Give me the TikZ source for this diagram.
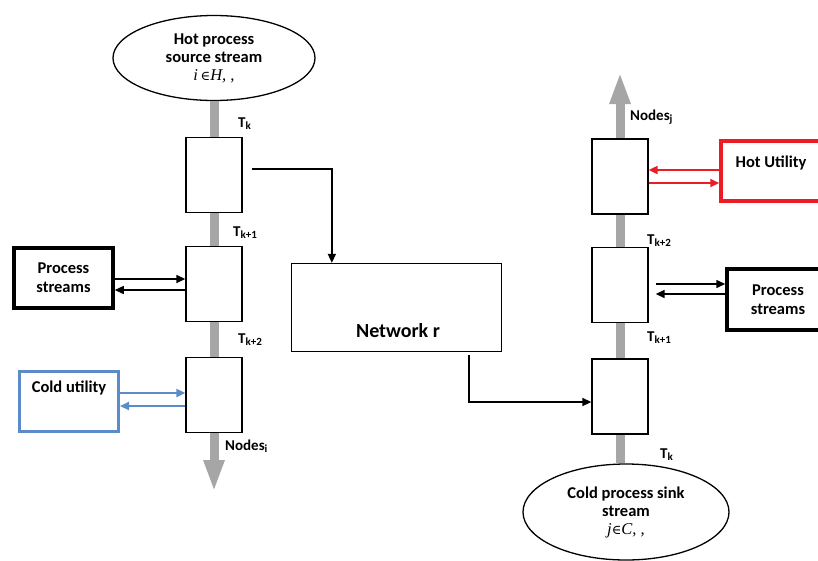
\documentclass[tikz,border=0pt]{standalone}
\usepackage{fontspec}
\setmainfont{Carlito}
\newfontfamily\mathserif{Liberation Serif}
\newfontfamily\symserif{DejaVu Serif}
\usetikzlibrary{arrows.meta,shapes.geometric,calc}
\definecolor{bargray}{HTML}{A6A6A6}
\definecolor{hotred}{HTML}{ED1C24}
\definecolor{coldblue}{HTML}{5B8BC9}
\newcommand\mysub[1]{\raisebox{-0.4ex}{\fontsize{11}{11}\selectfont\bfseries #1}}
\newcommand\myin{{\symserif\mdseries\upshape\fontsize{13}{13}\selectfont ∈}}
\begin{document}
\begin{tikzpicture}[x=1pt,y=-1pt,
  cell/.style={draw=black, line width=1.3pt, fill=white, minimum width=56pt, minimum height=75pt, inner sep=0pt},
  txt/.style={font=\fontsize{16.5}{19}\selectfont\bfseries, align=center, inner sep=0pt},
  lbl/.style={font=\fontsize{15}{17}\selectfont\bfseries, anchor=base west, inner sep=0pt},
  arr/.style={line width=1.5pt, -{Triangle[length=9pt,width=8pt]}},
  bar/.style={line width=9pt, draw=bargray, -{Triangle[length=32pt,width=19pt, fill=bargray]}},
  stream/.style={ellipse, draw=black, line width=1.3pt, fill=white, inner sep=0pt, align=center, font=\fontsize{16.5}{18}\selectfont\bfseries},
  thickbox/.style={draw=black, line width=3.5pt, inner sep=0pt}
]
\useasboundingbox (0,0) rectangle (818,560);

% streams (ellipses)
\node[stream, minimum width=202pt, minimum height=85pt] (hot) at (214,58) {Hot process\\source stream\\{\mathserif\mdseries\itshape i\,\myin H, ,}};
\node[stream, minimum width=206pt, minimum height=96pt] (cold) at (626,512) {Cold process sink\\stream\\{\mathserif\mdseries\itshape j\myin C, ,}};

% gray stream bars
\coordinate (ltip) at (214,492);
\coordinate (rtip) at (620,72);
\draw[bar] (hot.south) -- (ltip);
\draw[bar] (cold.north -| rtip) -- (rtip);

% interval cells
\node[cell] (L1) at (214,175) {};
\node[cell] (L2) at (214,284) {};
\node[cell] (L3) at (214,395) {};
\node[cell] (R1) at (620,176.5) {};
\node[cell] (R2) at (620,285) {};
\node[cell] (R3) at (620,396.5) {};

% network
\node[draw=black, line width=1.3pt, minimum width=210pt, minimum height=88pt, inner sep=0pt] (net) at (396.5,307.5) {};
\node[font=\fontsize{20}{22}\selectfont\bfseries, anchor=base, inner sep=0pt] (netlbl) at (398,337) {Network r};

% side boxes
\node[thickbox, minimum width=99pt, minimum height=60pt, txt] (psL) at (63.5,278) {Process\\streams};
\node[draw=coldblue, line width=3pt, minimum width=99pt, minimum height=60pt, inner sep=0pt] (cu) at (69,401.5) {};
\node[txt] (cutxt) at (69,388) {Cold utility};
\node[draw=hotred, line width=3.5pt, minimum width=108pt, minimum height=60pt, inner sep=0pt] (hu) at (775,171) {};
\node[txt] (hutxt) at (771,163) {Hot Utility};
\node[thickbox, minimum width=102pt, minimum height=61pt, txt] (psR) at (778,299.5) {Process\\streams};

% connectors to network
\draw[arr] ([shift={(9,-6)}]L1.east) -| ([xshift=41pt]net.north west);
\draw[arr] ([shift={(178,3)}]net.south west) |- (R3.west |- 0,402);

% left exchanges
\draw[arr] (psL.east |- 0,279) -- (L2.west |- 0,279);
\draw[arr] (L2.west |- 0,290) -- (psL.east |- 0,290);
\draw[arr, coldblue, line width=2pt] (cu.east |- 0,393) -- (L3.west |- 0,393);
\draw[arr, coldblue, line width=2pt] (L3.west |- 0,406) -- (cu.east |- 0,406);

% right exchanges
\draw[arr, hotred, line width=2pt] (hu.west |- 0,170) -- (R1.east |- 0,170);
\draw[arr, hotred, line width=2pt] (R1.east |- 0,183) -- (hu.west |- 0,183);
\draw[arr] ($(R2.east |- 0,284)+(7,0)$) -- (psR.west |- 0,284);
\draw[arr] (psR.west |- 0,294) -- ($(R2.east |- 0,294)+(7,0)$);

% temperature / node labels
\node[lbl] (tkL) at (238,127) {T\mysub{k}};
\node[lbl] (tk1L) at (233,236) {T\mysub{k+1}};
\node[lbl] (tk2L) at (238,343) {T\mysub{k+2}};
\node[lbl] (ndL) at (225,450) {Nodes\mysub{i}};
\node[lbl] (ndR) at (630,120) {Nodes\mysub{j}};
\node[lbl] (tk2R) at (647,244) {T\mysub{k+2}};
\node[lbl] (tk1R) at (647,341) {T\mysub{k+1}};
\node[lbl] (tkR) at (660,458) {T\mysub{k}};
\end{tikzpicture}
\end{document}
